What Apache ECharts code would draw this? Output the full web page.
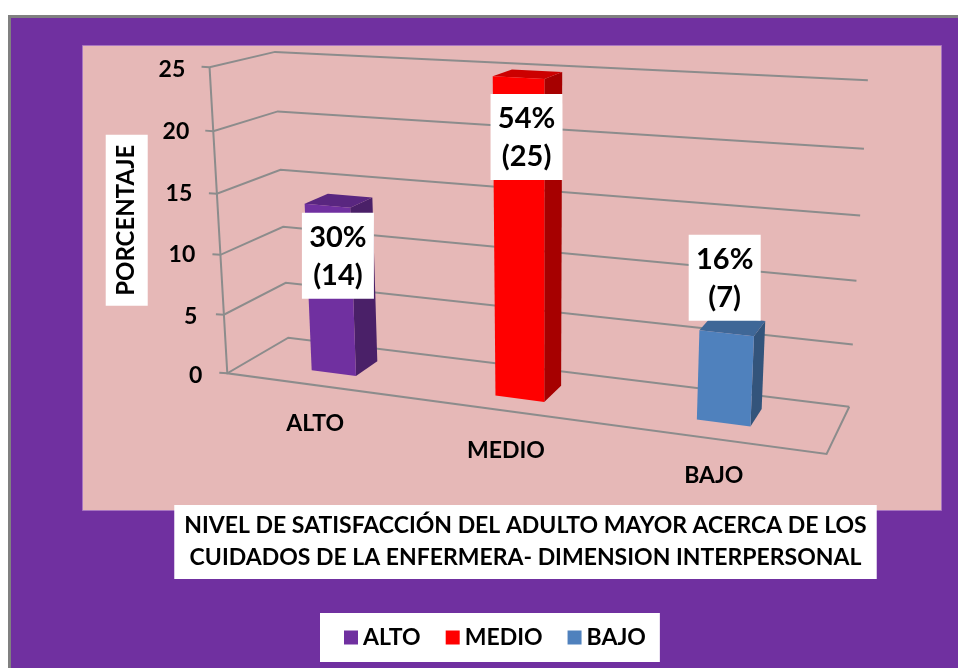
<!DOCTYPE html>
<html>
<head>
<meta charset="utf-8">
<script src="https://cdn.jsdelivr.net/npm/echarts@6/dist/echarts.min.js"></script>
<style>html,body{margin:0;padding:0;background:#fff}#c{width:958px;height:668px}</style>
</head>
<body>
<div id="c"></div>
<script>
var categories = ['ALTO', 'MEDIO', 'BAJO'];
var counts = [14, 25, 7];
var percents = [30, 54, 16];
var yTicks = [0, 5, 10, 15, 20, 25];
var titleLines = ['NIVEL DE SATISFACCIÓN DEL ADULTO MAYOR ACERCA DE LOS', 'CUIDADOS DE LA ENFERMERA- DIMENSION INTERPERSONAL'];
var yName = 'PORCENTAJE';

var frontColors = ['#7030A0', '#FF0000', '#4F81BD'];
var topColors = ['#592680', '#CC0000', '#3F6797'];
var sideColors = ['#4A2068', '#A60000', '#33547B'];
var labelNudge = [[10.5, 50], [8, 59.5], [-2, -55.5]];
var barNudge = [0, 0.003, -0.0015];
var barDepth = [0.31, 0.28, 0.33];
var yLabelShift = {0: [4, 0], 5: [8, 5], 10: [8, 7], 15: [8, 10], 20: [6, 13], 25: [4, 17]};
var xLabelShift = [[12, 0], [21, 54], [13, 104]];

var FONT = 'Lato';
var GRID = {left: 227.3, top: 67.3, width: 599.4, height: 306};
var A = [227.3, 373.3], VX = [-3513, -130], VZ = [1113.5, -143.9], VY = [542, 5800];
var wa = -0.1381, wb = 0.0739, wc = -0.0534;
var LINE = '#8C8C8C';

function project(u, w, v) {
  var s = u * wa, t = w * wb, r = v * wc, d = 1 + s + t + r;
  return [
    (A[0] + s * VX[0] + t * VZ[0] + r * VY[0]) / d,
    (A[1] + s * VX[1] + t * VZ[1] + r * VY[1]) / d
  ];
}
function toPlot(pt, cs) {
  return [(pt[0] - cs.x) / cs.width, (cs.y + cs.height - pt[1]) / cs.height];
}

function renderWalls(params, api) {
  var cs = params.coordSys;
  var v = toPlot(api.coord([0, api.value(1)]), cs)[1];
  var base = project(0, 0, v);
  return {type: 'group', children: [{
    type: 'polyline',
    shape: {points: [[base[0] - 8, base[1] - 0.5], base, project(0, 1, v), project(1, 1, v)]},
    style: {fill: null, stroke: LINE, lineWidth: 2}
  }]};
}

function renderFrame(params, api) {
  return {
    type: 'group',
    children: [
      {type: 'polyline', shape: {points: [project(0, 0, 1), project(0, 0, 0), project(1, 0, 0), project(1, 1, 0)]},
       style: {fill: null, stroke: LINE, lineWidth: 2}}
    ]
  };
}

function makeBar(idx) {
  return function (params, api) {
    var cs = params.coordSys;
    var cat = api.value(0), val = api.value(1);
    var top = toPlot(api.coord([cat, val]), cs);
    var halfW = api.size([1, 0])[0] / cs.width * 0.125;
    var c = top[0] + barNudge[idx];
    var u0 = c - halfW, u1 = c + halfW, v = top[1], w0 = barDepth[idx], w1 = w0 + 0.39;
    var fb0 = project(u0, w0, 0), fb1 = project(u1, w0, 0), bb1 = project(u1, w1, 0);
    var ft0 = project(u0, w0, v), ft1 = project(u1, w0, v), bt1 = project(u1, w1, v), bt0 = project(u0, w1, v);
    var anchor = [(ft0[0] + ft1[0]) / 2 + labelNudge[idx][0], (ft0[1] + ft1[1]) / 2 + labelNudge[idx][1]];
    return {
      type: 'group',
      children: [
        {type: 'polygon', shape: {points: [ft1, fb1, bb1, bt1]}, style: {fill: sideColors[idx]}},
        {type: 'polygon', shape: {points: [ft0, ft1, bt1, bt0]}, style: {fill: topColors[idx]}},
        {type: 'polygon', shape: {points: [ft0, fb0, fb1, ft1]}, style: {fill: frontColors[idx]}},
        {type: 'rect', shape: {x: anchor[0] - 36, y: anchor[1] - 43, width: 72, height: 86}, style: {fill: '#fff'}},
        {type: 'text', style: {x: anchor[0], y: anchor[1] - 18, text: percents[idx] + '%', align: 'center', verticalAlign: 'middle',
          fontFamily: FONT, fontWeight: 'bold', fontSize: 29, fill: '#000'}},
        {type: 'text', style: {x: anchor[0], y: anchor[1] + 20, text: '(' + counts[idx] + ')', align: 'center', verticalAlign: 'middle',
          fontFamily: FONT, fontWeight: 'bold', fontSize: 29, fill: '#000'}}
      ]
    };
  };
}

var yRich = {};
yTicks.forEach(function (t) {
  yRich['t' + t] = {fontFamily: FONT, fontWeight: 'bold', fontSize: 23, color: '#000', padding: [yLabelShift[t][0], yLabelShift[t][1], 0, 0]};
});
var xRich = {};
categories.forEach(function (c, i) {
  xRich['c' + i] = {fontFamily: FONT, fontWeight: 'bold', fontSize: 23, color: '#000', lineHeight: 22,
    padding: [xLabelShift[i][1], xLabelShift[i][0] * 2, 0, 0]};
});

var barSeries = categories.map(function (c, i) {
  return {
    name: c, type: 'custom', coordinateSystem: 'cartesian2d', clip: false, silent: true, z: 5,
    itemStyle: {color: frontColors[i]},
    encode: {x: 0, y: 1},
    data: [[i, counts[i]]],
    renderItem: makeBar(i)
  };
});

var option = {
  animation: false,
  backgroundColor: '#fff',
  grid: GRID,
  graphic: {elements: [
    {type: 'rect', z: -10, silent: true, shape: {x: 8, y: 15, width: 950, height: 653}, style: {fill: '#808080'}},
    {type: 'rect', z: -9, silent: true, shape: {x: 11, y: 18, width: 947, height: 650}, style: {fill: '#7030A0'}},
    {type: 'rect', z: -8, silent: true, shape: {x: 82.5, y: 45.5, width: 859, height: 465}, style: {fill: '#E6B8B7', stroke: '#A875C0', lineWidth: 1}}
  ]},
  title: {
    text: titleLines.join('\n'),
    left: 515.5, top: 505, padding: [5, 10, 5, 10],
    backgroundColor: '#fff',
    textAlign: 'center',
    textStyle: {fontFamily: FONT, fontWeight: 'bold', fontSize: 23, lineHeight: 32, color: '#000'}
  },
  legend: {
    data: categories, left: 320, top: 613, icon: 'rect', itemWidth: 14, itemHeight: 14, itemGap: 25,
    backgroundColor: '#fff', padding: [13, 14, 13, 24], selectedMode: false,
    textStyle: {fontFamily: FONT, fontWeight: 'bold', fontSize: 23, color: '#000'}
  },
  xAxis: {
    type: 'category', data: categories, position: 'bottom',
    axisLine: {show: false}, axisTick: {show: false}, splitLine: {show: false},
    axisLabel: {margin: 39, verticalAlign: 'top',
      formatter: function (v) { return '{c' + categories.indexOf(v) + '|' + v + '}'; }, rich: xRich}
  },
  yAxis: {
    type: 'value', min: 0, max: 25, interval: 5,
    axisLine: {show: false}, axisTick: {show: false}, splitLine: {show: false},
    axisLabel: {margin: 25, formatter: function (v) { return '{t' + v + '|' + v + '}'; }, rich: yRich},
    name: yName, nameLocation: 'middle', nameGap: 68, nameRotate: 90,
    nameTextStyle: {fontFamily: FONT, fontWeight: 'bold', fontSize: 24, color: '#000', backgroundColor: '#fff', padding: [9, 10, 9, 10]}
  },
  series: [
    {type: 'custom', coordinateSystem: 'cartesian2d', clip: false, silent: true, z: 3, encode: {x: 0, y: 1},
      data: yTicks.map(function (t) { return [0, t]; }), renderItem: renderWalls},
    {type: 'custom', coordinateSystem: 'cartesian2d', clip: false, silent: true, z: 3, encode: {x: 0, y: 1},
      data: [[0, 0]], renderItem: renderFrame}
  ].concat(barSeries)
};
var chart = echarts.init(document.getElementById('c'), null, {renderer: 'canvas'});
chart.setOption(option);
</script>
</body>
</html>
